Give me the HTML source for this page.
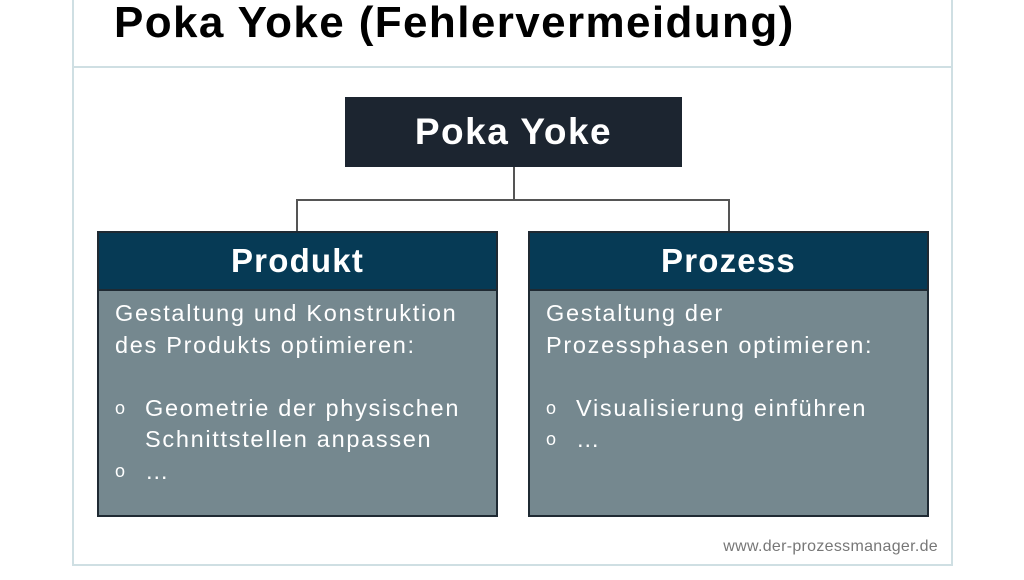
<!DOCTYPE html>
<html><head><meta charset="utf-8"><style>
body{margin:0;width:1024px;height:580px;background:#fff;position:relative;overflow:hidden;font-family:"Liberation Sans",sans-serif}
.a{position:absolute}
.box{position:absolute;border:2px solid #1f2a33;background:#75888f;box-sizing:border-box}
.hd{height:56px;background:#063a55;border-bottom:2px solid #1f2a33;color:#fff;font-weight:bold;font-size:33px;letter-spacing:1.2px;text-align:center;line-height:56px}
.bd{color:#fff;font-size:23.5px;letter-spacing:1.7px;line-height:31.5px;padding:7px 0 0 16px;white-space:nowrap}
.li{position:relative;padding-left:30px}
.li:before{content:"o";position:absolute;left:0;font-size:18px;letter-spacing:0}
</style></head><body>
<div class="a" style="left:72px;top:0;width:2px;height:566px;background:#cfdfe3"></div>
<div class="a" style="left:951px;top:0;width:2px;height:566px;background:#cfdfe3"></div>
<div class="a" style="left:72px;top:66px;width:881px;height:2px;background:#cfdfe3"></div>
<div class="a" style="left:72px;top:564px;width:881px;height:2px;background:#cfdfe3"></div>
<div class="a" style="left:114px;top:-2px;font-size:44px;letter-spacing:1.4px;font-weight:bold;line-height:50px;color:#000;white-space:nowrap">Poka Yoke (Fehlervermeidung)</div>
<div class="a" style="left:345px;top:97px;width:337px;height:70px;background:#1c2530;color:#fff;font-weight:bold;font-size:37px;letter-spacing:1.5px;text-align:center;line-height:70px">Poka Yoke</div>
<div class="a" style="left:513px;top:167px;width:2px;height:34px;background:#555"></div>
<div class="a" style="left:296px;top:199px;width:434px;height:2px;background:#555"></div>
<div class="a" style="left:296px;top:199px;width:2px;height:32px;background:#555"></div>
<div class="a" style="left:728px;top:199px;width:2px;height:32px;background:#555"></div>
<div class="box" style="left:97px;top:231px;width:401px;height:286px"><div class="hd">Produkt</div>
<div class="bd">Gestaltung und Konstruktion<br>des Produkts optimieren:<br><br><div class="li">Geometrie der physischen<br>Schnittstellen anpassen</div><div class="li">…</div></div></div>
<div class="box" style="left:528px;top:231px;width:401px;height:286px"><div class="hd">Prozess</div>
<div class="bd">Gestaltung der<br>Prozessphasen optimieren:<br><br><div class="li">Visualisierung einführen</div><div class="li">…</div></div></div>
<div class="a" style="right:86px;top:538px;font-size:16px;letter-spacing:0.3px;color:#777">www.der-prozessmanager.de</div>
</body></html>
